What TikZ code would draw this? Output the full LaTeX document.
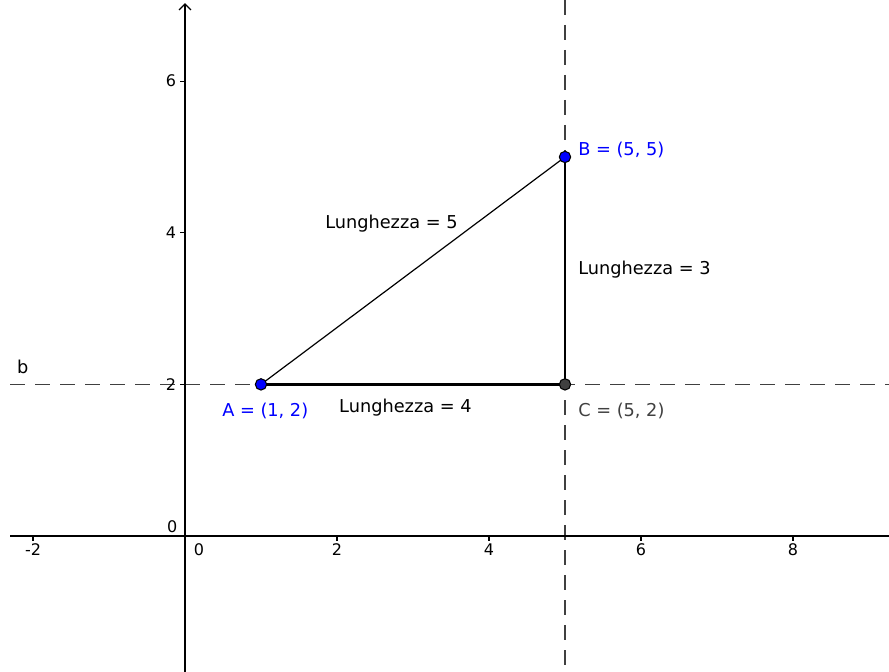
\documentclass[tikz,border=0pt]{standalone}
\usepackage{fontspec}
\setmainfont{DejaVu Sans}
\usetikzlibrary{arrows.meta}
\definecolor{ggblue}{RGB}{0,0,255}
\definecolor{ggdark}{RGB}{64,64,64}
\tikzset{
  axisline/.style={line width=1pt, black},
  tickline/.style={line width=0.9pt, black},
  ticklab/.style={font=\fontsize{12}{14}\selectfont, inner sep=0pt},
  auxline/.style={line width=1.1pt, ggdark, dash pattern=on 11.25pt off 7.5pt},
  thinseg/.style={line width=0.9pt, black},
  thickseg/.style={line width=1.8pt, black},
  ptblue/.style={circle, fill=ggblue, draw=black, line width=0.8pt, minimum size=8.5pt, inner sep=0pt},
  ptdark/.style={circle, fill=ggdark, draw=black, line width=0.8pt, minimum size=8.5pt, inner sep=0pt},
  lab/.style={font=\fontsize{13.3}{15}\selectfont, inner sep=0pt, anchor=base west},
}
\begin{document}
\begin{tikzpicture}[x=57pt, y=56.85pt]
\useasboundingbox (-2.434,-1.794) rectangle (9.263,7.071);
% coordinates
\coordinate (xl) at (-2.3,0);
\coordinate (xr) at (9.263,0);
\coordinate (yb) at (0,-1.794);
\coordinate (yt) at (0,7.03);
\coordinate (hl) at (-2.3,2);
\coordinate (hr) at (9.263,2);
\coordinate (vb) at (5,-1.794);
\coordinate (vt) at (5,7.071);
% auxiliary dashed lines
\draw[auxline] (hl) -- (hr);
\draw[auxline] (vt) -- (vb);
% axes
\draw[axisline] (xl) -- (xr);
\draw[axisline, -{Straight Barb[length=4.5pt, width=9pt, line width=0.9pt]}] (yb) -- (yt);
% x ticks
\foreach \v in {-2,2,4,6,8} {
  \draw[tickline] (\v,0) -- ++(0,-3.75pt);
  \node[ticklab, anchor=north] (xt\v) at ([yshift=-5.5pt]\v,0) {\v};
}
\node[ticklab, anchor=north west] (xt0) at ([xshift=6.5pt, yshift=-5.5pt]0,0) {0};
% y ticks
\foreach \v in {2,4,6} {
  \draw[tickline] (0,\v) -- ++(-3.75pt,0);
  \node[ticklab, anchor=east] (yt\v) at ([xshift=-6.5pt]0,\v) {\v};
}
\node[ticklab, anchor=south east] (yt0) at ([xshift=-5.5pt, yshift=2.5pt]0,0) {0};
% points
\coordinate (A) at (1,2);
\coordinate (B) at (5,5);
\coordinate (C) at (5,2);
% segments
\draw[thinseg] (A) -- (B);
\draw[thickseg] (A) -- (C);
\draw[thickseg] (C) -- (B);
\node[ptblue] (pA) at (A) {};
\node[ptblue] (pB) at (B) {};
\node[ptdark] (pC) at (C) {};
% labels
\node[lab, text=ggblue] (lA) at (0.487,1.575) {A = (1, 2)};
\node[lab, text=ggblue] (lB) at (5.171,5.020) {B = (5, 5)};
\node[lab, text=ggdark] (lC) at (5.171,1.575) {C = (5, 2)};
\node[lab] (l5) at (1.842,4.060) {Lunghezza = 5};
\node[lab] (l4) at (2.026,1.630) {Lunghezza = 4};
\node[lab] (l3) at (5.171,3.450) {Lunghezza = 3};
\node[lab] (lb) at (-2.211,2.150) {b};
\end{tikzpicture}
\end{document}
